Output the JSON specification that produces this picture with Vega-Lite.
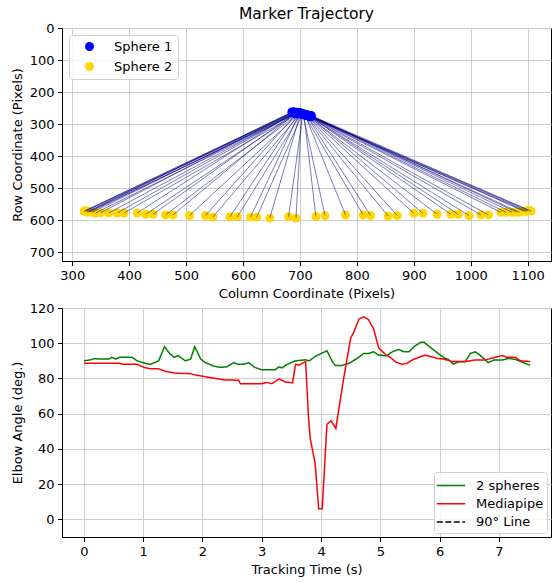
{
  "$schema": "https://vega.github.io/schema/vega-lite/v6.json",
  "padding": {"left": 10, "top": 6, "right": 0, "bottom": 0},
  "background": "white",
  "datasets": {
    "traj": [
      {"x1": 688, "y1": 264, "x2": 321, "y2": 573},
      {"x1": 686, "y1": 264, "x2": 322, "y2": 571},
      {"x1": 690, "y1": 266, "x2": 324, "y2": 572},
      {"x1": 689, "y1": 262, "x2": 326, "y2": 575},
      {"x1": 686, "y1": 262, "x2": 327, "y2": 574},
      {"x1": 692, "y1": 268, "x2": 329, "y2": 575},
      {"x1": 691, "y1": 267, "x2": 332, "y2": 574},
      {"x1": 689, "y1": 265, "x2": 335, "y2": 576},
      {"x1": 694, "y1": 267, "x2": 341, "y2": 578},
      {"x1": 687, "y1": 263, "x2": 350, "y2": 577},
      {"x1": 691, "y1": 266, "x2": 364, "y2": 578},
      {"x1": 693, "y1": 264, "x2": 379, "y2": 578},
      {"x1": 695, "y1": 268, "x2": 391, "y2": 578},
      {"x1": 690, "y1": 262, "x2": 414, "y2": 578},
      {"x1": 696, "y1": 266, "x2": 429, "y2": 582},
      {"x1": 692, "y1": 265, "x2": 442, "y2": 582},
      {"x1": 697, "y1": 268, "x2": 464, "y2": 584},
      {"x1": 694, "y1": 263, "x2": 477, "y2": 584},
      {"x1": 699, "y1": 267, "x2": 506, "y2": 586},
      {"x1": 696, "y1": 264, "x2": 534, "y2": 586},
      {"x1": 700, "y1": 269, "x2": 547, "y2": 591},
      {"x1": 698, "y1": 265, "x2": 577, "y2": 590},
      {"x1": 702, "y1": 268, "x2": 590, "y2": 590},
      {"x1": 700, "y1": 264, "x2": 613, "y2": 591},
      {"x1": 704, "y1": 270, "x2": 624, "y2": 591},
      {"x1": 701, "y1": 266, "x2": 647, "y2": 594},
      {"x1": 705, "y1": 270, "x2": 680, "y2": 590},
      {"x1": 703, "y1": 267, "x2": 693, "y2": 594},
      {"x1": 707, "y1": 271, "x2": 728, "y2": 589},
      {"x1": 705, "y1": 268, "x2": 744, "y2": 586},
      {"x1": 709, "y1": 272, "x2": 780, "y2": 584},
      {"x1": 707, "y1": 269, "x2": 811, "y2": 584},
      {"x1": 711, "y1": 273, "x2": 824, "y2": 586},
      {"x1": 709, "y1": 270, "x2": 855, "y2": 588},
      {"x1": 713, "y1": 274, "x2": 871, "y2": 586},
      {"x1": 711, "y1": 271, "x2": 900, "y2": 579},
      {"x1": 715, "y1": 274, "x2": 916, "y2": 579},
      {"x1": 712, "y1": 272, "x2": 941, "y2": 582},
      {"x1": 716, "y1": 275, "x2": 965, "y2": 582},
      {"x1": 714, "y1": 272, "x2": 978, "y2": 582},
      {"x1": 717, "y1": 276, "x2": 997, "y2": 586},
      {"x1": 715, "y1": 273, "x2": 1018, "y2": 584},
      {"x1": 718, "y1": 275, "x2": 1031, "y2": 584},
      {"x1": 716, "y1": 274, "x2": 1053, "y2": 576},
      {"x1": 719, "y1": 276, "x2": 1062, "y2": 576},
      {"x1": 717, "y1": 273, "x2": 1073, "y2": 576},
      {"x1": 719, "y1": 273, "x2": 1080, "y2": 575},
      {"x1": 720, "y1": 277, "x2": 1086, "y2": 576},
      {"x1": 718, "y1": 275, "x2": 1093, "y2": 572},
      {"x1": 717, "y1": 277, "x2": 1097, "y2": 573},
      {"x1": 719, "y1": 276, "x2": 1100, "y2": 572},
      {"x1": 718, "y1": 276, "x2": 1102, "y2": 570},
      {"x1": 720, "y1": 274, "x2": 1106, "y2": 572}
    ],
    "angles": [
      {"t": 0.00, "v": 90.0, "series": "2 spheres"},
      {"t": 0.11, "v": 90.6, "series": "2 spheres"},
      {"t": 0.17, "v": 91.2, "series": "2 spheres"},
      {"t": 0.30, "v": 91.0, "series": "2 spheres"},
      {"t": 0.42, "v": 91.0, "series": "2 spheres"},
      {"t": 0.47, "v": 92.0, "series": "2 spheres"},
      {"t": 0.54, "v": 91.0, "series": "2 spheres"},
      {"t": 0.60, "v": 92.0, "series": "2 spheres"},
      {"t": 0.81, "v": 92.0, "series": "2 spheres"},
      {"t": 0.90, "v": 90.0, "series": "2 spheres"},
      {"t": 1.04, "v": 88.5, "series": "2 spheres"},
      {"t": 1.12, "v": 88.0, "series": "2 spheres"},
      {"t": 1.26, "v": 90.0, "series": "2 spheres"},
      {"t": 1.36, "v": 98.0, "series": "2 spheres"},
      {"t": 1.45, "v": 94.0, "series": "2 spheres"},
      {"t": 1.52, "v": 92.0, "series": "2 spheres"},
      {"t": 1.59, "v": 93.0, "series": "2 spheres"},
      {"t": 1.71, "v": 90.0, "series": "2 spheres"},
      {"t": 1.80, "v": 91.0, "series": "2 spheres"},
      {"t": 1.87, "v": 98.0, "series": "2 spheres"},
      {"t": 1.97, "v": 91.0, "series": "2 spheres"},
      {"t": 2.05, "v": 89.0, "series": "2 spheres"},
      {"t": 2.19, "v": 87.0, "series": "2 spheres"},
      {"t": 2.30, "v": 86.3, "series": "2 spheres"},
      {"t": 2.41, "v": 86.6, "series": "2 spheres"},
      {"t": 2.53, "v": 89.0, "series": "2 spheres"},
      {"t": 2.60, "v": 88.0, "series": "2 spheres"},
      {"t": 2.69, "v": 88.0, "series": "2 spheres"},
      {"t": 2.78, "v": 89.0, "series": "2 spheres"},
      {"t": 2.88, "v": 86.3, "series": "2 spheres"},
      {"t": 2.99, "v": 85.0, "series": "2 spheres"},
      {"t": 3.23, "v": 85.0, "series": "2 spheres"},
      {"t": 3.29, "v": 86.6, "series": "2 spheres"},
      {"t": 3.34, "v": 86.0, "series": "2 spheres"},
      {"t": 3.43, "v": 88.0, "series": "2 spheres"},
      {"t": 3.57, "v": 90.0, "series": "2 spheres"},
      {"t": 3.74, "v": 90.6, "series": "2 spheres"},
      {"t": 3.80, "v": 90.0, "series": "2 spheres"},
      {"t": 3.91, "v": 92.7, "series": "2 spheres"},
      {"t": 4.10, "v": 95.7, "series": "2 spheres"},
      {"t": 4.19, "v": 89.6, "series": "2 spheres"},
      {"t": 4.24, "v": 87.4, "series": "2 spheres"},
      {"t": 4.35, "v": 87.4, "series": "2 spheres"},
      {"t": 4.47, "v": 88.6, "series": "2 spheres"},
      {"t": 4.61, "v": 91.4, "series": "2 spheres"},
      {"t": 4.72, "v": 94.2, "series": "2 spheres"},
      {"t": 4.80, "v": 94.2, "series": "2 spheres"},
      {"t": 4.89, "v": 95.1, "series": "2 spheres"},
      {"t": 4.97, "v": 93.3, "series": "2 spheres"},
      {"t": 5.11, "v": 92.9, "series": "2 spheres"},
      {"t": 5.20, "v": 95.1, "series": "2 spheres"},
      {"t": 5.31, "v": 96.5, "series": "2 spheres"},
      {"t": 5.40, "v": 95.1, "series": "2 spheres"},
      {"t": 5.48, "v": 95.1, "series": "2 spheres"},
      {"t": 5.59, "v": 98.6, "series": "2 spheres"},
      {"t": 5.68, "v": 100.5, "series": "2 spheres"},
      {"t": 5.74, "v": 100.5, "series": "2 spheres"},
      {"t": 5.85, "v": 97.5, "series": "2 spheres"},
      {"t": 5.96, "v": 94.6, "series": "2 spheres"},
      {"t": 6.07, "v": 91.8, "series": "2 spheres"},
      {"t": 6.15, "v": 90.8, "series": "2 spheres"},
      {"t": 6.23, "v": 88.2, "series": "2 spheres"},
      {"t": 6.33, "v": 89.5, "series": "2 spheres"},
      {"t": 6.43, "v": 89.5, "series": "2 spheres"},
      {"t": 6.52, "v": 94.2, "series": "2 spheres"},
      {"t": 6.60, "v": 95.1, "series": "2 spheres"},
      {"t": 6.68, "v": 93.3, "series": "2 spheres"},
      {"t": 6.82, "v": 89.0, "series": "2 spheres"},
      {"t": 6.92, "v": 90.5, "series": "2 spheres"},
      {"t": 7.06, "v": 90.5, "series": "2 spheres"},
      {"t": 7.17, "v": 91.4, "series": "2 spheres"},
      {"t": 7.28, "v": 90.8, "series": "2 spheres"},
      {"t": 7.39, "v": 89.3, "series": "2 spheres"},
      {"t": 7.53, "v": 87.4, "series": "2 spheres"},
      {"t": 0.00, "v": 88.6, "series": "Mediapipe"},
      {"t": 0.60, "v": 88.6, "series": "Mediapipe"},
      {"t": 0.67, "v": 88.0, "series": "Mediapipe"},
      {"t": 0.90, "v": 88.0, "series": "Mediapipe"},
      {"t": 1.01, "v": 86.3, "series": "Mediapipe"},
      {"t": 1.12, "v": 85.5, "series": "Mediapipe"},
      {"t": 1.26, "v": 85.5, "series": "Mediapipe"},
      {"t": 1.38, "v": 84.0, "series": "Mediapipe"},
      {"t": 1.55, "v": 83.0, "series": "Mediapipe"},
      {"t": 1.80, "v": 82.7, "series": "Mediapipe"},
      {"t": 1.88, "v": 82.0, "series": "Mediapipe"},
      {"t": 2.05, "v": 81.0, "series": "Mediapipe"},
      {"t": 2.22, "v": 80.0, "series": "Mediapipe"},
      {"t": 2.36, "v": 79.2, "series": "Mediapipe"},
      {"t": 2.61, "v": 79.0, "series": "Mediapipe"},
      {"t": 2.64, "v": 77.0, "series": "Mediapipe"},
      {"t": 2.99, "v": 77.0, "series": "Mediapipe"},
      {"t": 3.09, "v": 77.7, "series": "Mediapipe"},
      {"t": 3.17, "v": 77.0, "series": "Mediapipe"},
      {"t": 3.29, "v": 79.7, "series": "Mediapipe"},
      {"t": 3.40, "v": 78.0, "series": "Mediapipe"},
      {"t": 3.52, "v": 77.5, "series": "Mediapipe"},
      {"t": 3.57, "v": 88.0, "series": "Mediapipe"},
      {"t": 3.63, "v": 87.5, "series": "Mediapipe"},
      {"t": 3.68, "v": 88.6, "series": "Mediapipe"},
      {"t": 3.74, "v": 89.6, "series": "Mediapipe"},
      {"t": 3.79, "v": 57.0, "series": "Mediapipe"},
      {"t": 3.82, "v": 45.5, "series": "Mediapipe"},
      {"t": 3.90, "v": 32.0, "series": "Mediapipe"},
      {"t": 3.96, "v": 6.0, "series": "Mediapipe"},
      {"t": 4.02, "v": 6.0, "series": "Mediapipe"},
      {"t": 4.10, "v": 54.0, "series": "Mediapipe"},
      {"t": 4.17, "v": 56.0, "series": "Mediapipe"},
      {"t": 4.25, "v": 51.6, "series": "Mediapipe"},
      {"t": 4.30, "v": 62.6, "series": "Mediapipe"},
      {"t": 4.38, "v": 79.6, "series": "Mediapipe"},
      {"t": 4.50, "v": 103.0, "series": "Mediapipe"},
      {"t": 4.55, "v": 106.0, "series": "Mediapipe"},
      {"t": 4.64, "v": 113.7, "series": "Mediapipe"},
      {"t": 4.72, "v": 115.0, "series": "Mediapipe"},
      {"t": 4.80, "v": 113.4, "series": "Mediapipe"},
      {"t": 4.89, "v": 108.0, "series": "Mediapipe"},
      {"t": 4.97, "v": 97.5, "series": "Mediapipe"},
      {"t": 5.09, "v": 93.5, "series": "Mediapipe"},
      {"t": 5.18, "v": 91.7, "series": "Mediapipe"},
      {"t": 5.26, "v": 89.3, "series": "Mediapipe"},
      {"t": 5.37, "v": 88.0, "series": "Mediapipe"},
      {"t": 5.45, "v": 88.6, "series": "Mediapipe"},
      {"t": 5.54, "v": 90.5, "series": "Mediapipe"},
      {"t": 5.68, "v": 92.4, "series": "Mediapipe"},
      {"t": 5.76, "v": 93.2, "series": "Mediapipe"},
      {"t": 5.85, "v": 92.4, "series": "Mediapipe"},
      {"t": 5.96, "v": 91.4, "series": "Mediapipe"},
      {"t": 6.07, "v": 91.0, "series": "Mediapipe"},
      {"t": 6.21, "v": 89.6, "series": "Mediapipe"},
      {"t": 6.43, "v": 89.6, "series": "Mediapipe"},
      {"t": 6.60, "v": 90.5, "series": "Mediapipe"},
      {"t": 6.77, "v": 90.5, "series": "Mediapipe"},
      {"t": 6.94, "v": 92.0, "series": "Mediapipe"},
      {"t": 7.06, "v": 93.0, "series": "Mediapipe"},
      {"t": 7.14, "v": 92.0, "series": "Mediapipe"},
      {"t": 7.28, "v": 92.0, "series": "Mediapipe"},
      {"t": 7.36, "v": 90.0, "series": "Mediapipe"},
      {"t": 7.53, "v": 89.6, "series": "Mediapipe"}
    ]
  },
  "vconcat": [
    {
      "width": 489,
      "height": 233,
      "title": {"text": "Marker Trajectory", "fontSize": 15.5, "fontWeight": "normal", "color": "black", "offset": 0},
      "data": {"name": "traj"},
      "layer": [
        {
          "mark": {"type": "point", "filled": true, "size": 80, "opacity": 1},
          "encoding": {
            "x": {"field": "x2", "type": "quantitative", "scale": {"domain": [282, 1141], "nice": false, "zero": false},
                  "axis": {"values": [300, 400, 500, 600, 700, 800, 900, 1000, 1100], "format": "d", "labelOverlap": false, "title": "Column Coordinate (Pixels)"}},
            "y": {"field": "y2", "type": "quantitative", "scale": {"domain": [0, 728], "nice": false, "zero": false, "reverse": true},
                  "axis": {"values": [0, 100, 200, 300, 400, 500, 600, 700], "format": "d", "labelOverlap": false, "labelSeparation": 0, "title": "Row Coordinate (Pixels)"}},
            "color": {"datum": "Sphere 2", "type": "nominal",
                      "scale": {"domain": ["Sphere 1", "Sphere 2"], "range": ["#0000ff", "#ffd700"]},
                      "legend": {"orient": "top-left", "offset": 7, "title": null, "symbolType": "circle", "symbolSize": 80,
                                 "padding": 5, "rowPadding": 6, "symbolOffset": 9, "labelOffset": 18, "labelFontSize": 13,
                                 "fillColor": "rgba(255,255,255,0.8)", "strokeColor": "#d0d0d0", "cornerRadius": 3, "symbolOpacity": 1}}
          }
        },
        {
          "mark": {"type": "rule", "color": "#000080", "strokeWidth": 0.8, "opacity": 0.65},
          "encoding": {
            "x": {"field": "x1", "type": "quantitative",
                  "axis": {"values": [300, 400, 500, 600, 700, 800, 900, 1000, 1100], "format": "d", "labelOverlap": false, "title": "Column Coordinate (Pixels)"}},
            "y": {"field": "y1", "type": "quantitative",
                  "axis": {"values": [0, 100, 200, 300, 400, 500, 600, 700], "format": "d", "labelOverlap": false, "labelSeparation": 0, "title": "Row Coordinate (Pixels)"}},
            "x2": {"field": "x2"},
            "y2": {"field": "y2"}
          }
        },
        {
          "mark": {"type": "point", "filled": true, "size": 80, "opacity": 1},
          "encoding": {
            "x": {"field": "x1", "type": "quantitative",
                  "axis": {"values": [300, 400, 500, 600, 700, 800, 900, 1000, 1100], "format": "d", "labelOverlap": false, "title": "Column Coordinate (Pixels)"}},
            "y": {"field": "y1", "type": "quantitative",
                  "axis": {"values": [0, 100, 200, 300, 400, 500, 600, 700], "format": "d", "labelOverlap": false, "labelSeparation": 0, "title": "Row Coordinate (Pixels)"}},
            "color": {"datum": "Sphere 1", "type": "nominal"}
          }
        }
      ]
    },
    {
      "width": 489,
      "height": 229,
      "layer": [
        {
          "data": {"name": "angles"},
          "mark": {"type": "line", "strokeWidth": 1.5},
          "encoding": {
            "x": {"field": "t", "type": "quantitative", "scale": {"domain": [-0.37, 7.88], "nice": false, "zero": false},
                  "axis": {"values": [0, 1, 2, 3, 4, 5, 6, 7], "format": "d", "labelOverlap": false, "title": "Tracking Time (s)"}},
            "y": {"field": "v", "type": "quantitative", "scale": {"domain": [-10, 120], "nice": false, "zero": false},
                  "axis": {"values": [0, 20, 40, 60, 80, 100, 120], "format": "d", "labelOverlap": false, "labelSeparation": 0, "title": "Elbow Angle (deg.)"}},
            "color": {"field": "series", "type": "nominal",
                      "scale": {"domain": ["2 spheres", "Mediapipe", "90° Line"], "range": ["#008000", "#ff0000", "#000000"]},
                      "legend": {"orient": "bottom-right", "offset": 4, "title": null, "symbolType": "M-1.45,0H1.45", "symbolSize": 380,
                                 "symbolStrokeWidth": 1.5, "padding": 3, "rowPadding": 0.3, "symbolOffset": 3.5, "labelOffset": 14.5,
                                 "labelFontSize": 13, "fillColor": "rgba(255,255,255,0.8)", "strokeColor": "#d0d0d0", "cornerRadius": 3}},
            "strokeDash": {"field": "series", "type": "nominal",
                           "scale": {"domain": ["2 spheres", "Mediapipe", "90° Line"], "range": [[1, 0], [1, 0], [6, 2.5]]},
                           "legend": {"orient": "bottom-right", "offset": 4, "title": null, "symbolType": "M-1.45,0H1.45", "symbolSize": 380,
                                 "symbolStrokeWidth": 1.5, "padding": 3, "rowPadding": 0.3, "symbolOffset": 3.5, "labelOffset": 14.5,
                                 "labelFontSize": 13, "fillColor": "rgba(255,255,255,0.8)", "strokeColor": "#d0d0d0", "cornerRadius": 3}}
          }
        },
        {
          "mark": {"type": "rule", "strokeWidth": 1.5},
          "encoding": {
            "y": {"datum": 90, "type": "quantitative",
                  "axis": {"values": [0, 20, 40, 60, 80, 100, 120], "format": "d", "labelOverlap": false, "labelSeparation": 0, "title": "Elbow Angle (deg.)"}},
            "color": {"datum": "90° Line", "type": "nominal"},
            "strokeDash": {"datum": "90° Line", "type": "nominal"}
          }
        }
      ]
    }
  ],
  "spacing": 0,
  "resolve": {
    "scale": {"x": "independent", "y": "independent", "color": "independent", "strokeDash": "independent"},
    "legend": {"color": "independent", "strokeDash": "independent"}
  },
  "config": {
    "font": "DejaVu Sans",
    "view": {"stroke": "black", "strokeWidth": 1},
    "axis": {
      "domainColor": "black", "domainWidth": 1, "tickColor": "black", "tickWidth": 1, "tickSize": 4.5,
      "labelColor": "black", "labelFontSize": 13, "labelPadding": 3.5, "labelFlush": false, "labelOverlap": false,
      "titleColor": "black", "titleFontSize": 13, "titleFontWeight": "normal", "titlePadding": 5,
      "gridColor": "#cccccc", "gridWidth": 1
    },
    "axisY": {"labelOverlap": false, "tickCount": 20},
    "legend": {"labelColor": "black", "labelFont": "DejaVu Sans"}
  }
}
